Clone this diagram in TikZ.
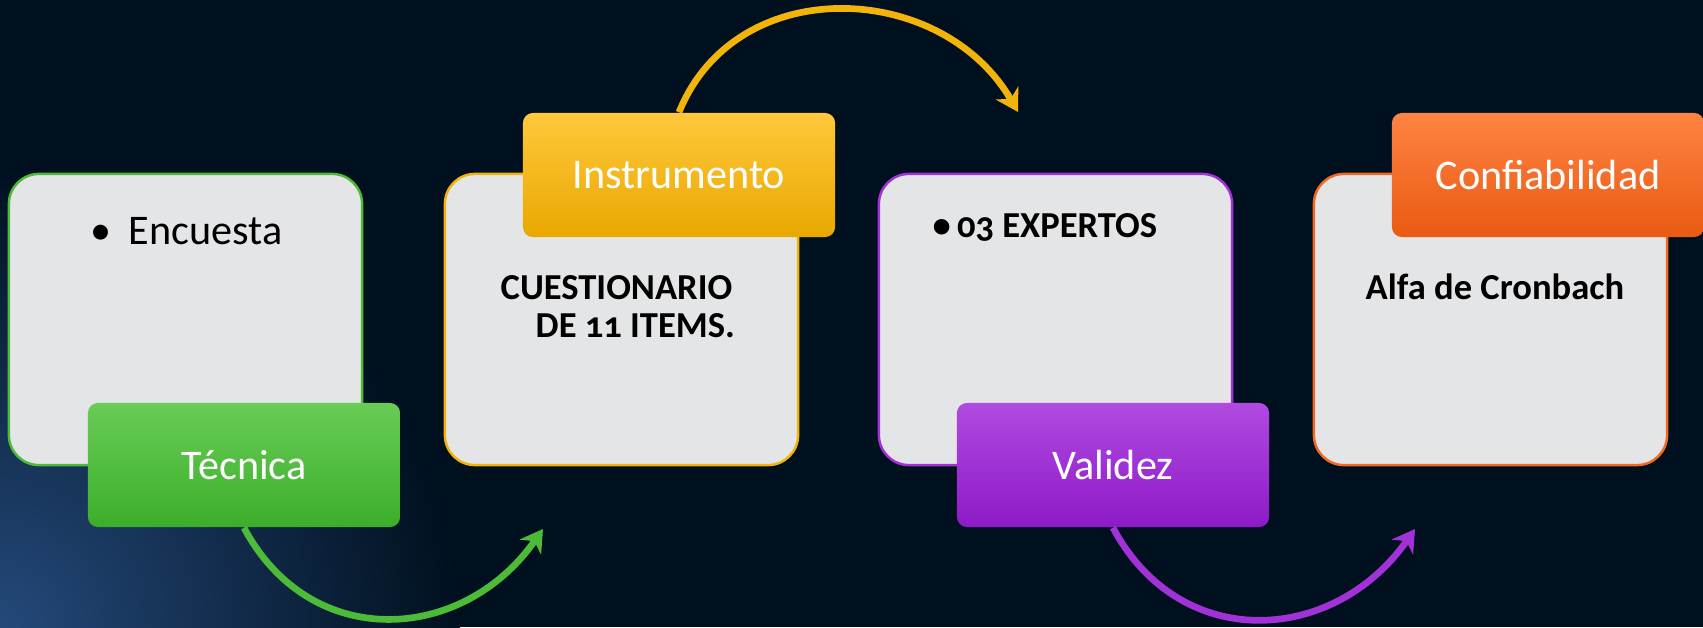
\documentclass[tikz,border=0pt]{standalone}
\usepackage{fontspec}
\setmainfont{Carlito}[Numbers=OldStyle]
\usetikzlibrary{arrows.meta}

\definecolor{fondo}{HTML}{01101F}
\definecolor{brillo}{HTML}{24497A}
\definecolor{gris}{HTML}{E4E5E7}
\definecolor{verdeA}{HTML}{68CC56}
\definecolor{verdeB}{HTML}{3CAE2A}
\definecolor{verde}{HTML}{4CBB38}
\definecolor{amarilloA}{HTML}{FFC83C}
\definecolor{amarilloB}{HTML}{E9A800}
\definecolor{amarillo}{HTML}{F2B30A}
\definecolor{moradoA}{HTML}{B04AE0}
\definecolor{moradoB}{HTML}{8D1AC7}
\definecolor{morado}{HTML}{A232D8}
\definecolor{naranjaA}{HTML}{FF8342}
\definecolor{naranjaB}{HTML}{E95A12}
\definecolor{naranja}{HTML}{F26A22}

\begin{document}
\begin{tikzpicture}[x=0.01cm,y=0.01cm,
  caja/.style={draw, line width=0.7pt, fill=gris, rounded corners=0.3cm,
    minimum width=3.53cm, minimum height=2.91cm},
  etiqueta/.style={rounded corners=0.1cm, minimum width=3.12cm,
    minimum height=1.24cm, text=white, font=\fontsize{12}{14}\selectfont},
  flecha/.style={line width=1.9pt, -{Stealth[length=0.22cm,width=0.26cm]}},
  texto/.style={anchor=base west, font=\fontsize{10.4}{12}\selectfont\bfseries}]
\tikzstyle{every node}+=[inner sep=0pt]
\useasboundingbox (0,0) rectangle (1703,627);
\fill [fondo] (0,0) rectangle (1703,627);
\begin{scope}
\clip (0,0) rectangle (1703,627);
\shade [inner color=brillo, outer color=fondo] (0,0) circle (460);
\end{scope}
% cajas
\node [caja, draw=verde] (caja1) at (185.5,307.5) {};
\node [caja, draw=amarillo] (caja2) at (621.5,307.5) {};
\node [caja, draw=morado] (caja3) at (1055.5,307.5) {};
\node [caja, draw=naranja] (caja4) at (1490.5,307.5) {};
% textos
\node [anchor=base west, font=\fontsize{12}{14}\selectfont] (encuesta) at (90,382) {\textbullet\hspace{0.17cm}Encuesta};
\node [texto] (cuest1) at (500,327) {CUESTIONARIO};
\node [texto] (cuest2) at (535,289) {DE 11 ITEMS.};
\node [texto] (expertos) at (932,389) {\textbullet\,03 EXPERTOS};
\node [texto] (alfa) at (1365,327) {Alfa de Cronbach};
% etiquetas
\node [etiqueta, top color=verdeA, bottom color=verdeB] (tecnica) at (244,162) {Técnica};
\node [etiqueta, top color=amarilloA, bottom color=amarilloB] (instrumento) at (679,452) {Instrumento};
\node [etiqueta, top color=moradoA, bottom color=moradoB] (validez) at (1113,162) {Validez};
\node [etiqueta, top color=naranjaA, bottom color=naranjaB] (confiabilidad) at (1548,452) {Confiabilidad};
% flechas
\coordinate (punta1) at (543,98);
\coordinate (punta2) at (1018,515);
\coordinate (punta3) at (1415,98);
\draw [flecha, verde] (tecnica.south) to[out=-62, in=-125, looseness=1.2] (punta1);
\draw [flecha, amarillo] (instrumento.north) to[out=68, in=120, looseness=1.15] (punta2);
\draw [flecha, morado] (validez.south) to[out=-62, in=-125, looseness=1.2] (punta3);
\end{tikzpicture}
\end{document}
